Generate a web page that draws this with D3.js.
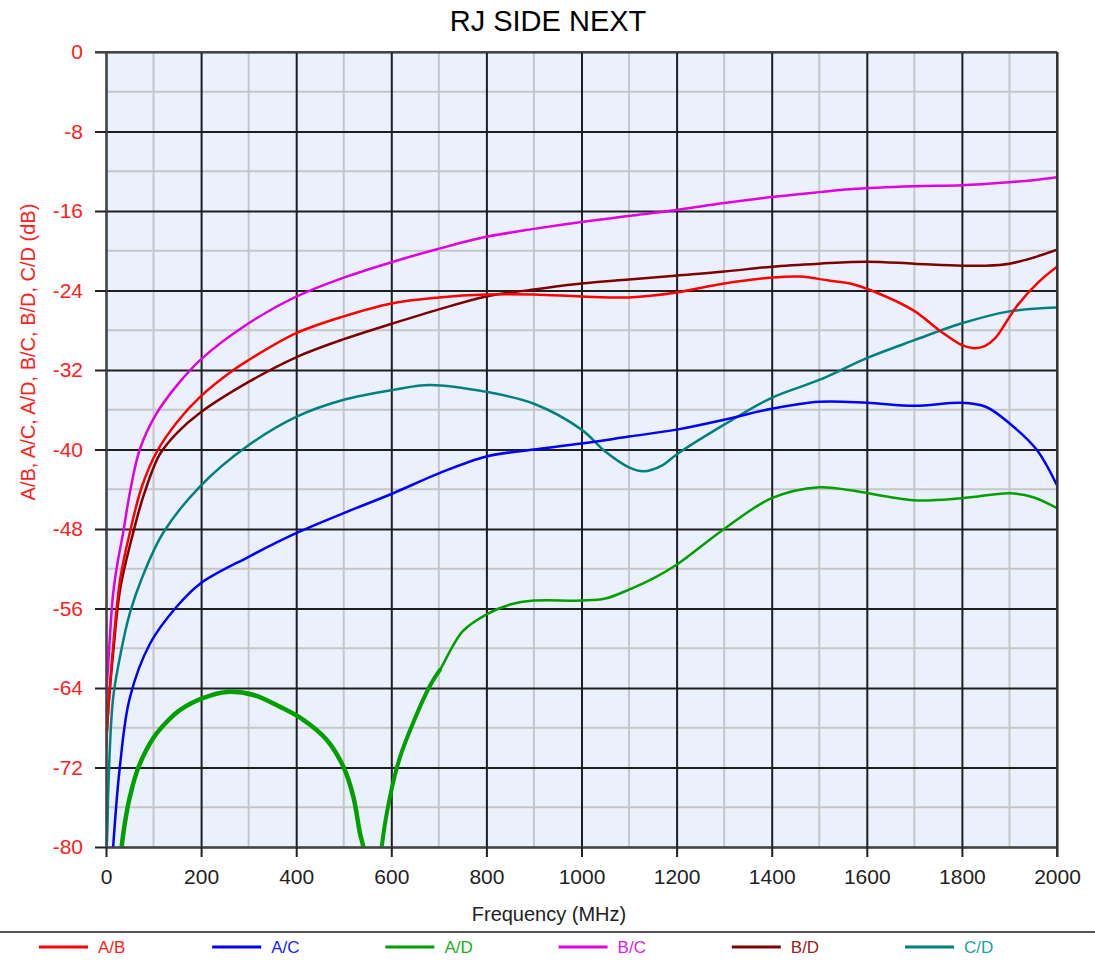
<!DOCTYPE html>
<html>
<head>
<meta charset="utf-8">
<style>
  body { margin: 0; background: #fff; }
  svg { display: block; font-family: "Liberation Sans", Arial, sans-serif; }
</style>
<script src="https://cdn.jsdelivr.net/npm/d3@7"></script>
</head>
<body>
<svg width="1095" height="965"></svg>
<script>
// tick values
var xTicks = [0, 200, 400, 600, 800, 1000, 1200, 1400, 1600, 1800, 2000];
var xMinor = [100, 300, 500, 700, 900, 1100, 1300, 1500, 1700, 1900];
var yTicks = [0, -8, -16, -24, -32, -40, -48, -56, -64, -72, -80];
var yMinor = [-4, -12, -20, -28, -36, -44, -52, -60, -68, -76];

var seriesNames = ["A/B", "A/C", "A/D", "B/C", "B/D", "C/D"];
var seriesColors = ["#ff0000", "#0000ff", "#00a000", "#e000e0", "#800000", "#008080"];
var legendTextColors = ["#ff2020", "#2020ff", "#20b020", "#e020e0", "#a02020", "#20a0a0"];

// [frequency MHz, dB]
var ab = [[0,-70],[5,-66],[15,-59.8],[30,-53],[50,-48.4],[75,-43.8],[106,-40.3],[150,-37.2],[198,-34.7],
  [268,-32],[300,-31],[400,-28.3],[500,-26.6],[600,-25.3],[700,-24.7],[800,-24.4],[900,-24.4],
  [1000,-24.6],[1100,-24.7],[1200,-24.2],[1300,-23.3],[1400,-22.7],[1460,-22.6],[1520,-23],
  [1565,-23.3],[1620,-24.2],[1698,-26],[1755,-28.1],[1800,-29.5],[1825,-29.8],[1848,-29.6],
  [1870,-28.8],[1915,-25.6],[1960,-23.2],[2000,-21.6]];

var ac = [[10,-84],[15,-80],[29,-72],[50,-65],[93,-59.5],[149,-55.8],[198,-53.5],[300,-50.8],
  [401,-48.4],[500,-46.4],[604,-44.4],[700,-42.4],[800,-40.7],[900,-40],[1000,-39.4],[1100,-38.7],
  [1200,-38],[1300,-37],[1400,-35.9],[1500,-35.2],[1600,-35.3],[1700,-35.6],[1800,-35.3],
  [1850,-35.7],[1901,-37.4],[1957,-40],[2000,-43.6]];

var adLow = [[28,-84],[33,-80],[40,-77.5],[50,-75],[68,-72],[100,-69],[130,-67.3],[156,-66.2],
  [205,-65],[254,-64.4],[310,-64.7],[366,-65.9],[415,-67.2],[464,-69.2],[499,-71.9],[520,-74.9],
  [534,-78.6],[541,-80],[546,-84]];
var adHigh = [[576,-84],[580,-80],[597,-75],[618,-71],[646,-67.5],[681,-63.8],[702,-62.2],
  [750,-58.3],[800,-56.6],[850,-55.6],[900,-55.2],[1000,-55.2],[1050,-55],[1100,-54.1],
  [1150,-53],[1200,-51.6],[1300,-48],[1400,-44.9],[1500,-43.8],[1565,-44.1],[1698,-45.1],
  [1800,-44.9],[1901,-44.4],[1950,-44.8],[2000,-45.9]];

var bc = [[0,-65],[4,-62],[8,-59],[15,-54.5],[25,-51.2],[36,-48.4],[50,-44.4],[71,-40],[106,-36.4],
  [150,-33.5],[198,-31],[300,-27.3],[401,-24.6],[500,-22.7],[604,-21.1],[700,-19.8],[800,-18.6],
  [900,-17.8],[1000,-17.1],[1100,-16.5],[1200,-15.9],[1300,-15.2],[1400,-14.6],[1500,-14.1],
  [1565,-13.8],[1700,-13.5],[1800,-13.4],[1900,-13.1],[1950,-12.9],[2000,-12.6]];

var bd = [[0,-70],[5,-66],[15,-60.5],[30,-54],[57,-48.4],[80,-44.5],[113,-40.5],[150,-38.3],
  [198,-36.3],[300,-33.2],[401,-30.7],[500,-28.9],[604,-27.3],[700,-25.9],[800,-24.6],
  [900,-23.9],[1000,-23.3],[1100,-22.9],[1200,-22.5],[1300,-22.1],[1400,-21.6],[1500,-21.3],
  [1600,-21.1],[1700,-21.3],[1800,-21.5],[1850,-21.5],[1900,-21.3],[1950,-20.7],[2000,-19.9]];

var cd = [[0,-82],[3,-78],[5,-74],[15,-65],[33,-60],[50,-56.5],[75,-53],[120,-48.4],[198,-43.7],
  [296,-39.7],[401,-36.7],[500,-35],[604,-34],[681,-33.5],[800,-34.2],[900,-35.4],[1000,-38],
  [1050,-40.2],[1100,-41.8],[1130,-42.2],[1170,-41.6],[1200,-40.5],[1300,-37.5],[1400,-34.8],
  [1500,-33],[1600,-30.8],[1700,-29],[1800,-27.3],[1900,-26.1],[2000,-25.7]];

var svg = d3.select("svg");
var margin = {left: 106, right: 1057, top: 52, bottom: 847};

var x = d3.scaleLinear().domain([0, 2000]).range([margin.left, margin.right]);
var y = d3.scaleLinear().domain([-80, 0]).range([margin.bottom, margin.top]);
var pw = margin.right - margin.left, ph = margin.bottom - margin.top;

svg.append("defs").append("clipPath").attr("id", "plot")
  .append("rect").attr("x", margin.left).attr("y", margin.top)
  .attr("width", pw).attr("height", ph);

svg.append("rect").attr("x", margin.left).attr("y", margin.top)
  .attr("width", pw).attr("height", ph)
  .attr("fill", "#eaf0fc");

// minor grid
var grid = svg.append("g");
grid.selectAll(".vx").data(xMinor).enter().append("line")
  .attr("x1", function(d) { return x(d); }).attr("x2", function(d) { return x(d); })
  .attr("y1", margin.top).attr("y2", margin.bottom)
  .attr("stroke", "#c6c6c6").attr("stroke-width", 2);
grid.selectAll(".hy").data(yMinor).enter().append("line")
  .attr("y1", function(d) { return y(d); }).attr("y2", function(d) { return y(d); })
  .attr("x1", margin.left).attr("x2", margin.right)
  .attr("stroke", "#c6c6c6").attr("stroke-width", 2);

// major grid via axes
svg.append("g")
  .attr("transform", "translate(0," + margin.bottom + ")")
  .call(d3.axisBottom(x).tickValues(xTicks).tickSize(-ph).tickFormat(""))
  .call(function(g) { g.select(".domain").remove(); })
  .selectAll("line").attr("stroke", "#1e1e1e").attr("stroke-width", 2);
svg.append("g")
  .attr("transform", "translate(" + margin.left + ",0)")
  .call(d3.axisLeft(y).tickValues(yTicks).tickSize(-pw).tickFormat(""))
  .call(function(g) { g.select(".domain").remove(); })
  .selectAll("line").attr("stroke", "#1e1e1e").attr("stroke-width", 2);

// series
var line = d3.line()
  .x(function(d) { return x(d[0]); })
  .y(function(d) { return y(d[1]); })
  .curve(d3.curveCatmullRom.alpha(0.5));

var plot = svg.append("g").attr("clip-path", "url(#plot)");
function drawSeries(data, color, w) {
  plot.append("path").datum(data)
    .attr("fill", "none").attr("stroke", color)
    .attr("stroke-width", w).attr("stroke-linejoin", "round")
    .attr("stroke-linecap", "round")
    .attr("d", line);
}
drawSeries(cd, seriesColors[5], 2.5);
// A/D: the noisy low part is drawn heavier
drawSeries(adLow, seriesColors[2], 4.5);
drawSeries(adHigh, seriesColors[2], 2.5);
drawSeries(adHigh.filter(function(d) { return d[0] <= 702; }), seriesColors[2], 4);
drawSeries(ac, seriesColors[1], 2.5);
drawSeries(bd, seriesColors[4], 2.5);
drawSeries(ab, seriesColors[0], 2.5);
drawSeries(bc, seriesColors[3], 2.5);

// axes with ticks and labels
var xAxis = svg.append("g")
  .attr("transform", "translate(0," + margin.bottom + ")")
  .call(d3.axisBottom(x).tickValues(xTicks).tickFormat(d3.format("d"))
    .tickSize(10).tickPadding(12).tickSizeOuter(0));
xAxis.select(".domain").attr("stroke", "#444").attr("stroke-width", 2);
xAxis.selectAll("line").attr("stroke", "#222").attr("stroke-width", 2);
xAxis.selectAll("text").attr("font-size", 21).attr("fill", "#222")
  .attr("font-family", "Liberation Sans, Arial, sans-serif");

var yAxis = svg.append("g")
  .attr("transform", "translate(" + margin.left + ",0)")
  .call(d3.axisLeft(y).tickValues(yTicks).tickFormat(d3.format("d"))
    .tickSize(11).tickPadding(12).tickSizeOuter(0));
yAxis.select(".domain").attr("stroke", "#444").attr("stroke-width", 2);
yAxis.selectAll("line").attr("stroke", "#222").attr("stroke-width", 2);
yAxis.selectAll("text").attr("font-size", 21).attr("fill", "#ff2020")
  .attr("font-family", "Liberation Sans, Arial, sans-serif")
  .text(function(d) { return d === 0 ? "0" : "-" + Math.abs(d); });

// frame (top and right)
svg.append("line").attr("x1", margin.left - 11).attr("x2", margin.right)
  .attr("y1", margin.top).attr("y2", margin.top)
  .attr("stroke", "#444").attr("stroke-width", 2);
svg.append("line").attr("x1", margin.right).attr("x2", margin.right)
  .attr("y1", margin.top).attr("y2", margin.bottom + 10)
  .attr("stroke", "#333").attr("stroke-width", 2);

// titles
svg.append("text").attr("x", 548).attr("y", 31).attr("text-anchor", "middle")
  .attr("font-size", 29).attr("fill", "#000").text("RJ SIDE NEXT");
svg.append("text").attr("x", 549).attr("y", 921).attr("text-anchor", "middle")
  .attr("font-size", 20).attr("fill", "#222").text("Frequency (MHz)");
svg.append("text")
  .attr("transform", "translate(35,352) rotate(-90)")
  .attr("text-anchor", "middle").attr("font-size", 20).attr("fill", "#ff2020")
  .text("A/B, A/C, A/D, B/C, B/D, C/D (dB)");

// legend
svg.append("line").attr("x1", 0).attr("x2", 1095).attr("y1", 932).attr("y2", 932)
  .attr("stroke", "#555").attr("stroke-width", 2);
var legend = svg.append("g").selectAll("g").data(seriesNames).enter().append("g")
  .attr("transform", function(d, i) { return "translate(" + (39 + i * 173.2) + ",947)"; });
legend.append("line").attr("x1", 0).attr("x2", 49)
  .attr("stroke", function(d, i) { return seriesColors[i]; }).attr("stroke-width", 3);
legend.append("text").attr("x", 59).attr("dy", "0.35em").attr("font-size", 17)
  .attr("fill", function(d, i) { return legendTextColors[i]; })
  .text(function(d) { return d; });
</script>
</body>
</html>
